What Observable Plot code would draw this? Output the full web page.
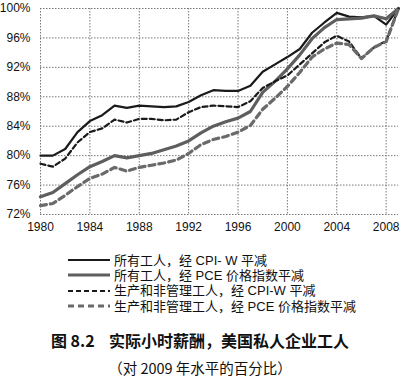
<!DOCTYPE html>
<html><head><meta charset="utf-8">
<script src="https://cdn.jsdelivr.net/npm/d3@7"></script>
<script src="https://cdn.jsdelivr.net/npm/@observablehq/plot@0.6"></script>
<style>
body{margin:0;background:#fff;width:400px;height:380px;position:relative;overflow:hidden;font-family:"Noto Sans CJK SC","Noto Sans",sans-serif;color:#111;}
#chart{position:absolute;left:0;top:0;}
.lg{position:absolute;left:66px;height:16px;display:flex;align-items:center;font-family:"Liberation Sans","Noto Sans CJK SC",sans-serif;font-size:13px;line-height:15px;white-space:nowrap;}
.lg svg{margin-right:4px;}
#cap{position:absolute;left:0;width:400px;top:329px;text-align:center;font-weight:bold;font-size:16px;line-height:22px;}
#sub{position:absolute;left:0;width:400px;top:357px;text-align:center;font-size:14.5px;line-height:22px;}
</style></head><body>
<div id="chart"></div>
<div id="legend"></div>
<div id="cap">图 8.2&nbsp;&nbsp;&nbsp;&nbsp;实际小时薪酬，美国私人企业工人</div>
<div id="sub">（对 2009 年水平的百分比）</div>
<script>
const years = [1980,1981,1982,1983,1984,1985,1986,1987,1988,1989,1990,1991,1992,1993,1994,1995,1996,1997,1998,1999,2000,2001,2002,2003,2004,2005,2006,2007,2008,2009];
const allCpi  = [80.0,80.0,80.9,83.2,84.7,85.5,86.8,86.5,86.8,86.7,86.6,86.7,87.3,88.2,88.9,88.8,88.8,89.5,91.4,92.4,93.4,94.5,96.7,98.1,99.4,98.9,98.8,99.0,97.8,100];
const allPce  = [74.4,75.0,76.2,77.4,78.5,79.2,80.0,79.7,80.0,80.3,80.8,81.3,82.0,83.1,84.0,84.6,85.1,86.0,88.6,90.1,91.8,93.7,95.9,97.4,98.5,98.6,98.7,99.0,98.6,100];
const prodCpi = [78.9,78.5,79.6,81.8,83.2,83.7,84.9,84.5,85.0,85.0,84.8,84.9,85.9,86.6,86.8,86.7,86.6,87.4,89.2,90.1,90.9,92.4,93.9,95.4,96.3,95.5,93.2,94.7,95.6,100];
const prodPce = [73.2,73.5,74.6,75.8,76.9,77.5,78.4,77.9,78.4,78.7,79.0,79.4,80.3,81.5,82.2,82.6,83.2,84.1,86.3,87.8,89.4,91.3,93.4,94.5,95.3,95.1,93.2,94.7,95.5,100];
const seriesNames = ["所有工人，经 CPI- W 平减","所有工人，经 PCE 价格指数平减","生产和非管理工人，经 CPI-W 平减","生产和非管理工人，经 PCE 价格指数平减"];
const xTicks = [1980,1984,1988,1992,1996,2000,2004,2008];
const yTicks = [72,76,80,84,88,92,96,100];

const seriesValues = [allCpi, allPce, prodCpi, prodPce];
const styles = [
  {stroke:"#1a1a1a", strokeWidth:2.2, strokeDasharray:null},
  {stroke:"#5e5e5e", strokeWidth:3.2, strokeDasharray:null},
  {stroke:"#1a1a1a", strokeWidth:2.2, strokeDasharray:"5,3"},
  {stroke:"#6a6a6a", strokeWidth:3.2, strokeDasharray:"6,4"}
];
const data = seriesNames.map((name,i)=>years.map((y,j)=>({year:y, value:seriesValues[i][j], series:name})));

const marks = [
  Plot.gridX(xTicks,{stroke:"#777",strokeOpacity:1,strokeDasharray:"1.5,1.5",strokeWidth:1}),
  Plot.gridY(yTicks,{stroke:"#777",strokeOpacity:1,strokeDasharray:"1.5,1.5",strokeWidth:1}),
  Plot.axisX(xTicks,{tickSize:0,tickPadding:8,tickFormat:d=>String(d),fontSize:12}),
  Plot.axisY(yTicks,{tickSize:0,tickPadding:10,tickFormat:d=>d+"%",fontSize:12})
];
data.forEach((d,i)=>{
  const s = styles[i];
  const opts = {x:"year",y:"value",stroke:s.stroke,strokeWidth:s.strokeWidth,curve:"linear"};
  if (s.strokeDasharray) opts.strokeDasharray = s.strokeDasharray;
  marks.push(Plot.line(d,opts));
});

const chart = Plot.plot({
  width:400, height:240,
  marginTop:8, marginBottom:26, marginLeft:40, marginRight:2,
  style:{fontFamily:"'Liberation Sans',Arial,sans-serif",fontSize:"12px",color:"#111",background:"#fff"},
  x:{domain:[1980,2009],label:null},
  y:{domain:[72,100],label:null},
  marks
});
document.getElementById("chart").appendChild(chart);

const legend = document.getElementById("legend");
const rowTops = [252,267,282.5,298];
seriesNames.forEach((name,i)=>{
  const s = styles[i];
  const row = document.createElement("div");
  row.className = "lg";
  row.style.top = rowTops[i]+"px";
  const ns = "http://www.w3.org/2000/svg";
  const svg = document.createElementNS(ns,"svg");
  svg.setAttribute("width","44"); svg.setAttribute("height","16");
  const ln = document.createElementNS(ns,"line");
  ln.setAttribute("x1","2"); ln.setAttribute("x2","44");
  ln.setAttribute("y1","8"); ln.setAttribute("y2","8");
  ln.setAttribute("stroke",s.stroke);
  ln.setAttribute("stroke-width",s.strokeWidth);
  if (s.strokeDasharray) ln.setAttribute("stroke-dasharray",s.strokeDasharray);
  svg.appendChild(ln);
  row.appendChild(svg);
  const t = document.createElement("span");
  t.textContent = name;
  row.appendChild(t);
  legend.appendChild(row);
});
</script>
</body></html>
